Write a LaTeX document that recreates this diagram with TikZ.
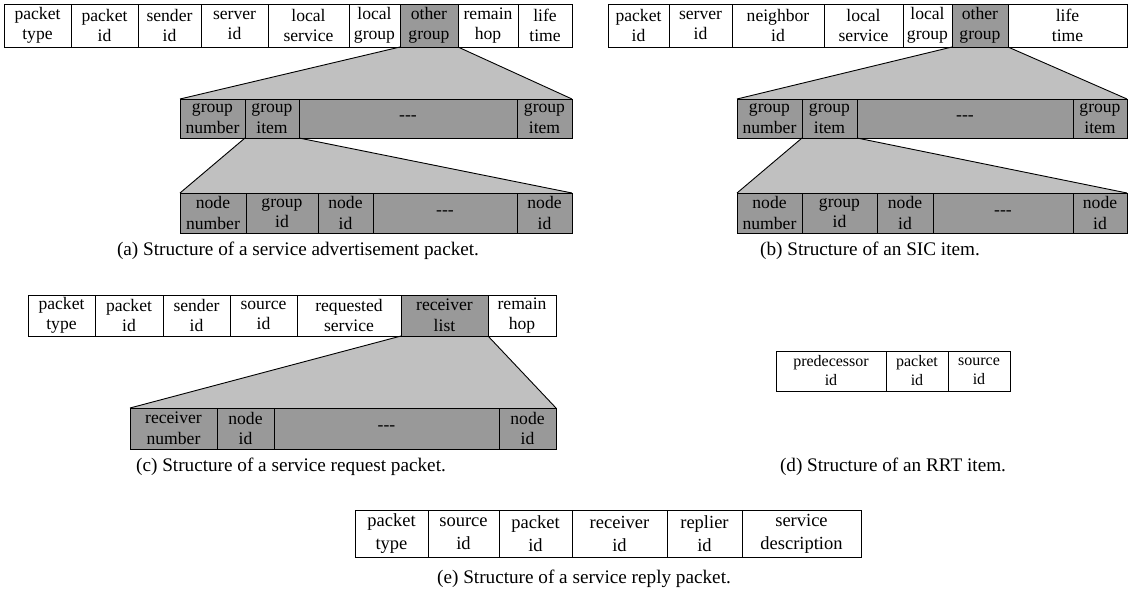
\documentclass[tikz,border=0pt]{standalone}
\usepackage{fontspec}
\setmainfont{Liberation Serif}
\pgfdeclarelayer{bg}
\pgfsetlayers{bg,main}
\definecolor{cellgray}{HTML}{999999}
\definecolor{trapgray}{HTML}{C0C0C0}
\tikzset{
  cellbox/.style={draw=black, line width=0.9pt, inner sep=0pt, outer sep=0pt,
    align=center},
  fa/.style={font=\fontsize{17.6}{20.5}\selectfont},
  fd/.style={font=\fontsize{16}{19}\selectfont},
  fe/.style={font=\fontsize{18.5}{23}\selectfont},
  wcell/.style={fill=white},
  gcell/.style={fill=cellgray},
  conn/.style={draw=black, line width=0.9pt},
  capt/.style={font=\fontsize{19.2}{22}\selectfont, inner sep=0pt, anchor=center},
}
\newcommand{\cell}[7]{\node[cellbox,#6,minimum width={#3-#2},minimum height={#5},anchor=north west] (#1) at (#2,#4) {#7};}
\newcommand{\dashes}{-{}-{}-}
\begin{document}
\begin{tikzpicture}[x=1pt,y=-1pt]
\useasboundingbox (0,0) rectangle (1129,592);
% ---------- (a) ----------
\cell{a1}{4}{71}{4}{43}{wcell,fa}{packet\\type}
\cell{a2}{71}{138}{4}{43}{wcell,fa}{packet\\id}
\cell{a3}{138}{201}{4}{43}{wcell,fa}{sender\\id}
\cell{a4}{201}{268}{4}{43}{wcell,fa}{server\\id}
\cell{a5}{268}{349}{4}{43}{wcell,fa}{local\\service}
\cell{a6}{349}{400}{4}{43}{wcell,fa}{local\\group}
\cell{a7}{400}{458}{4}{43}{gcell,fa}{other\\group}
\cell{a8}{458}{518}{4}{43}{wcell,fa}{remain\\hop}
\cell{a9}{518}{572}{4}{43}{wcell,fa}{life\\time}
\cell{ag1}{180}{245}{99}{39}{gcell,fa}{group\\number}
\cell{ag2}{245}{299}{99}{39}{gcell,fa}{group\\item}
\cell{ag3}{299}{517}{99}{39}{gcell,fa}{\dashes}
\cell{ag4}{517}{572}{99}{39}{gcell,fa}{group\\item}
\cell{an1}{180}{246}{193}{40}{gcell,fa}{node\\number}
\cell{an2}{246}{318}{193}{40}{gcell,fa}{group\\id}
\cell{an3}{318}{373}{193}{40}{gcell,fa}{node\\id}
\cell{an4}{373}{517}{193}{40}{gcell,fa}{\dashes}
\cell{an5}{517}{572}{193}{40}{gcell,fa}{node\\id}
\node[capt] (capa) at (298,251) {(a) Structure of a service advertisement packet.};
% ---------- (b) ----------
\cell{b1}{608}{669}{4}{43}{wcell,fa}{packet\\id}
\cell{b2}{669}{732}{4}{43}{wcell,fa}{server\\id}
\cell{b3}{732}{824}{4}{43}{wcell,fa}{neighbor\\id}
\cell{b4}{824}{903}{4}{43}{wcell,fa}{local\\service}
\cell{b5}{903}{952}{4}{43}{wcell,fa}{local\\group}
\cell{b6}{952}{1008}{4}{43}{gcell,fa}{other\\group}
\cell{b7}{1008}{1127}{4}{43}{wcell,fa}{life\\time}
\cell{bg1}{737}{802}{99}{39}{gcell,fa}{group\\number}
\cell{bg2}{802}{857}{99}{39}{gcell,fa}{group\\item}
\cell{bg3}{857}{1073}{99}{39}{gcell,fa}{\dashes}
\cell{bg4}{1073}{1127}{99}{39}{gcell,fa}{group\\item}
\cell{bn1}{737}{802}{193}{40}{gcell,fa}{node\\number}
\cell{bn2}{802}{877}{193}{40}{gcell,fa}{group\\id}
\cell{bn3}{877}{933}{193}{40}{gcell,fa}{node\\id}
\cell{bn4}{933}{1073}{193}{40}{gcell,fa}{\dashes}
\cell{bn5}{1073}{1127}{193}{40}{gcell,fa}{node\\id}
\node[capt] (capb) at (870,251) {(b) Structure of an SIC item.};
% ---------- (c) ----------
\cell{c1}{28}{95}{295}{41}{wcell,fa}{packet\\type}
\cell{c2}{95}{163}{295}{41}{wcell,fa}{packet\\id}
\cell{c3}{163}{230}{295}{41}{wcell,fa}{sender\\id}
\cell{c4}{230}{297}{295}{41}{wcell,fa}{source\\id}
\cell{c5}{297}{401}{295}{41}{wcell,fa}{requested\\service}
\cell{c6}{401}{488}{295}{41}{gcell,fa}{receiver\\list}
\cell{c7}{488}{556}{295}{41}{wcell,fa}{remain\\hop}
\cell{cr1}{130}{217}{408}{41}{gcell,fa}{receiver\\number}
\cell{cr2}{217}{274}{408}{41}{gcell,fa}{node\\id}
\cell{cr3}{274}{499}{408}{41}{gcell,fa}{\dashes}
\cell{cr4}{499}{556}{408}{41}{gcell,fa}{node\\id}
\node[capt] (capc) at (291,467) {(c) Structure of a service request packet.};
% ---------- (d) ----------
\cell{d1}{776}{886}{351}{40}{wcell,fd}{predecessor\\id}
\cell{d2}{886}{948}{351}{40}{wcell,fd}{packet\\id}
\cell{d3}{948}{1010}{351}{40}{wcell,fd}{source\\id}
\node[capt] (capd) at (893,467) {(d) Structure of an RRT item.};
% ---------- (e) ----------
\cell{e1}{355}{428}{510}{47}{wcell,fe}{packet\\type}
\cell{e2}{428}{499}{510}{47}{wcell,fe}{source\\id}
\cell{e3}{499}{572}{510}{47}{wcell,fe}{packet\\id}
\cell{e4}{572}{667}{510}{47}{wcell,fe}{receiver\\id}
\cell{e5}{667}{742}{510}{47}{wcell,fe}{replier\\id}
\cell{e6}{742}{861}{510}{47}{wcell,fe}{service\\description}
\node[capt] (cape) at (584,579) {(e) Structure of a service reply packet.};
% ---------- expansion wedges ----------
\begin{pgfonlayer}{bg}
\fill[trapgray] (a7.south west) -- (a7.south east) -- (ag4.north east) -- (ag1.north west) -- cycle;
\fill[trapgray] (ag2.south west) -- (ag2.south east) -- (an5.north east) -- (an1.north west) -- cycle;
\fill[trapgray] (b6.south west) -- (b6.south east) -- (bg4.north east) -- (bg1.north west) -- cycle;
\fill[trapgray] (bg2.south west) -- (bg2.south east) -- (bn5.north east) -- (bn1.north west) -- cycle;
\fill[trapgray] (c6.south west) -- (c6.south east) -- (cr4.north east) -- (cr1.north west) -- cycle;
\end{pgfonlayer}
\draw[conn] (a7.south west) -- (ag1.north west);
\draw[conn] (a7.south east) -- (ag4.north east);
\draw[conn] (ag2.south west) -- (an1.north west);
\draw[conn] (ag2.south east) -- (an5.north east);
\draw[conn] (b6.south west) -- (bg1.north west);
\draw[conn] (b6.south east) -- (bg4.north east);
\draw[conn] (bg2.south west) -- (bn1.north west);
\draw[conn] (bg2.south east) -- (bn5.north east);
\draw[conn] (c6.south west) -- (cr1.north west);
\draw[conn] (c6.south east) -- (cr4.north east);
\end{tikzpicture}
\end{document}
